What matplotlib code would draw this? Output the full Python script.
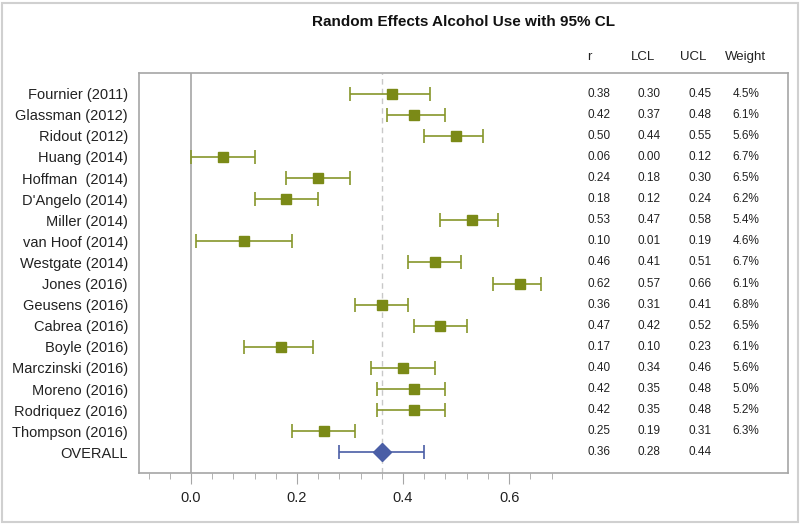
import matplotlib
matplotlib.use("Agg")
import matplotlib.pyplot as plt
from matplotlib.patches import Rectangle
import numpy as np

studies = ["Fournier (2011)", "Glassman (2012)", "Ridout (2012)", "Huang (2014)",
           "Hoffman  (2014)", "D'Angelo (2014)", "Miller (2014)", "van Hoof (2014)",
           "Westgate (2014)", "Jones (2016)", "Geusens (2016)", "Cabrea (2016)",
           "Boyle (2016)", "Marczinski (2016)", "Moreno (2016)", "Rodriquez (2016)",
           "Thompson (2016)"]
r = [0.38, 0.42, 0.50, 0.06, 0.24, 0.18, 0.53, 0.10, 0.46, 0.62, 0.36, 0.47,
     0.17, 0.40, 0.42, 0.42, 0.25]
lcl = [0.30, 0.37, 0.44, 0.00, 0.18, 0.12, 0.47, 0.01, 0.41, 0.57, 0.31, 0.42,
       0.10, 0.34, 0.35, 0.35, 0.19]
ucl = [0.45, 0.48, 0.55, 0.12, 0.30, 0.24, 0.58, 0.19, 0.51, 0.66, 0.41, 0.52,
       0.23, 0.46, 0.48, 0.48, 0.31]
weight = ["4.5%", "6.1%", "5.6%", "6.7%", "6.5%", "6.2%", "5.4%", "4.6%", "6.7%",
          "6.1%", "6.8%", "6.5%", "6.1%", "5.6%", "5.0%", "5.2%", "6.3%"]
overall_label = "OVERALL"
overall_r = 0.36
overall_lcl = 0.28
overall_ucl = 0.44
xticks = [0.0, 0.2, 0.4, 0.6]
col_headers = ["r", "LCL", "UCL", "Weight"]

FONT = "Liberation Sans"
plt.rcParams["font.family"] = [FONT, "DejaVu Sans"]

fig = plt.figure(figsize=(8.0, 5.24), dpi=100)
W, H = 800, 524
left, right, top, bottom = 139, 788, 73, 473
ax = fig.add_axes([left / W, 1 - bottom / H, (right - left) / W, (bottom - top) / H])

green = "#7b8a17"
green_line = "#86962a"
blue = "#4a5ea6"
frame = "#a6a6a6"

n = len(studies)
ys = np.arange(n)
yo = n

r_arr = np.array(r); l_arr = np.array(lcl); u_arr = np.array(ucl)
ax.errorbar(r_arr, ys, xerr=[r_arr - l_arr, u_arr - r_arr], fmt="s", color=green,
            ms=7, ecolor=green_line, elinewidth=1.2, capsize=5, capthick=1.2, zorder=3)
ax.errorbar([overall_r], [yo], xerr=[[overall_r - overall_lcl], [overall_ucl - overall_r]],
            fmt="D", color=blue, ms=9, ecolor=blue, elinewidth=1.2, capsize=5,
            capthick=1.2, zorder=3)

ax.axvline(0, color=frame, lw=1.2, zorder=1)
ax.axvline(overall_r, color="#c8c8c8", lw=1, ls=(0, (4, 3)), zorder=1)

ax.set_xlim(-0.098, 1.126)
ax.set_ylim(n + 0.98, -0.98)

ax.set_yticks(list(ys) + [yo])
ax.set_yticklabels(studies + [overall_label], fontsize=10.5, color="#222222")
ax.tick_params(axis="y", length=0, pad=8)

ax.set_xticks(xticks)
ax.set_xticklabels([f"{t:.1f}" for t in xticks], fontsize=10.5, color="#222222")
minor = [t for t in np.round(np.arange(-0.08, 0.681, 0.04), 2)
         if not any(abs(t - m) < 1e-9 for m in xticks)]
ax.set_xticks(minor, minor=True)
ax.tick_params(axis="x", which="major", length=8, color=frame, pad=5)
ax.tick_params(axis="x", which="minor", length=4, color=frame)

for s in ax.spines.values():
    s.set_color(frame)
    s.set_linewidth(1.2)

# table columns (x in data units)
col_x = [0.77, 0.864, 0.960, 1.047]
tbl_fs = 8.5
for i in range(n):
    vals = [f"{r[i]:.2f}", f"{lcl[i]:.2f}", f"{ucl[i]:.2f}", weight[i]]
    for cx, v in zip(col_x, vals):
        ax.text(cx, ys[i], v, ha="center", va="center", fontsize=tbl_fs, color="#222222")
for cx, v in zip(col_x[:3], [f"{overall_r:.2f}", f"{overall_lcl:.2f}", f"{overall_ucl:.2f}"]):
    ax.text(cx, yo, v, ha="center", va="center", fontsize=tbl_fs, color="#222222")

hdr_x = [0.752, 0.852, 0.948, 1.045]
for hx, h in zip(hdr_x, col_headers):
    ax.text(hx, -1.75, h, ha="center", va="center", fontsize=9.5, color="#222222", clip_on=False)

fig.text(463 / W, 1 - 22 / H, "Random Effects Alcohol Use with 95% CL", ha="center",
         va="center", fontsize=11, fontweight="bold", color="#111111",
         family=["Liberation Sans Narrow", FONT, "DejaVu Sans"])

fig.patches.append(Rectangle((2 / W, 2 / H), 796 / W, 519 / H, transform=fig.transFigure,
                             fill=False, edgecolor="#d0d0d0", lw=1.5))

fig.savefig("out.png", dpi=100)
